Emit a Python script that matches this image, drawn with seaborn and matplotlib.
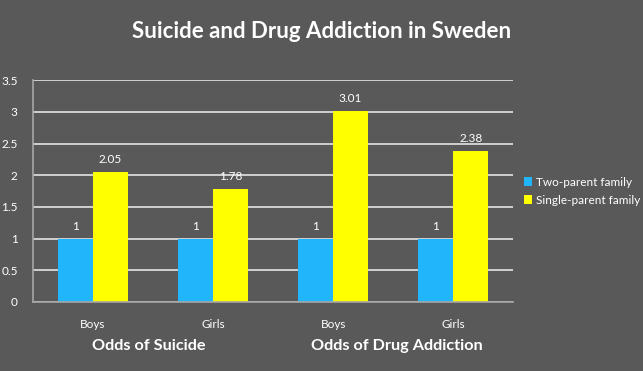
import pandas as pd
import matplotlib
matplotlib.use("Agg")
import matplotlib.pyplot as plt
import seaborn as sns

groups = ["Boys", "Girls", "Boys", "Girls"]
slots = ["Boys (suicide)", "Girls (suicide)", "Boys (drug)", "Girls (drug)"]
two_parent = [1, 1, 1, 1]
single_parent = [2.05, 1.78, 3.01, 2.38]
series = ["Two-parent family", "Single-parent family"]
section_labels = ["Odds of Suicide", "Odds of Drug Addiction"]

df = pd.DataFrame({
    "slot": slots * 2,
    "family": [series[0]] * 4 + [series[1]] * 4,
    "odds": two_parent + single_parent,
})

bg = "#595959"
sns.set_style("dark")
plt.rcParams["font.family"] = ["Lato", "DejaVu Sans"]

fig = plt.figure(figsize=(6.43, 3.71), dpi=100, facecolor=bg)
ax = fig.add_axes([0.0513, 0.186, 0.747, 0.598])
ax.set_facecolor(bg)

sns.barplot(data=df, x="slot", y="odds", hue="family", order=slots,
            palette=["#21b5fb", "#ffff00"], width=0.58, saturation=1,
            edgecolor="none", linewidth=0, ax=ax, legend=True)

for cont in ax.containers:
    ax.bar_label(cont, labels=[f"{v:g}" for v in cont.datavalues],
                 color="white", fontsize=8.5, padding=5)

ax.set_ylim(0, 3.5)
ax.set_xlim(-0.5, 3.5)
ax.set_yticks([0, 0.5, 1, 1.5, 2, 2.5, 3, 3.5])
ax.set_yticklabels(["0", "0.5", "1", "1.5", "2", "2.5", "3", "3.5"])
ax.set_xticks(range(4))
ax.set_xticklabels(groups)
ax.tick_params(axis="both", length=0, colors="white", labelsize=8.5)
ax.tick_params(axis="x", pad=12)
ax.tick_params(axis="y", pad=11)
ax.set_xlabel("")
ax.set_ylabel("")
ax.set_axisbelow(True)
ax.yaxis.grid(True, color="#d0d0d0", lw=1.4)
ax.xaxis.grid(False)
for side in ["top", "right"]:
    ax.spines[side].set_visible(False)
for side in ["left", "bottom"]:
    ax.spines[side].set_visible(True)
    ax.spines[side].set_color("#a6a6a6")
    ax.spines[side].set_linewidth(1.2)

leg = ax.legend(loc="center left", bbox_to_anchor=(1.0, 0.5), frameon=False,
                fontsize=8.5, handlelength=0.7, handleheight=0.7,
                handletextpad=0.3, labelspacing=0.6)
for t in leg.get_texts():
    t.set_color("white")

# section titles under each pair of groups
for x, lab in zip([0.46, 2.53], section_labels):
    ax.text(x, -0.70, lab, ha="center", va="center",
            color="white", fontsize=11.7, fontweight="bold")

fig.text(0.5, 0.915, "Suicide and Drug Addiction in Sweden", ha="center", va="center",
         color="white", fontsize=16, fontweight="bold")

fig.savefig("out.png", dpi=100, facecolor=bg)
